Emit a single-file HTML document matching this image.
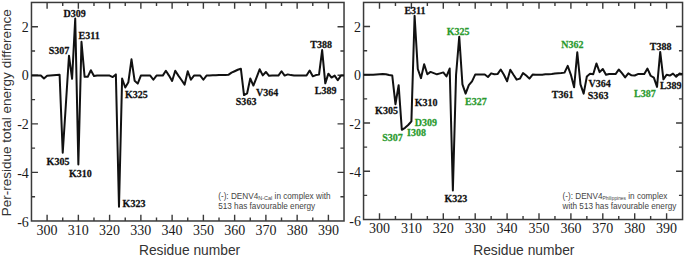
<!DOCTYPE html>
<html><head><meta charset="utf-8"><style>
html,body{margin:0;padding:0;background:#fff;}
body{width:685px;height:256px;overflow:hidden;}
svg{display:block;}
.tl{font-family:"Liberation Serif",serif;font-size:14px;fill:#1a1a1a;}
.lb{font-family:"Liberation Serif",serif;font-weight:bold;font-size:11px;fill:#111;stroke:#111;stroke-width:0.25px;}
.g{fill:#2a9a2e;stroke:#2a9a2e;}
.at{font-family:"Liberation Sans",sans-serif;font-size:13.8px;fill:#333;}
.lg{font-family:"Liberation Sans",sans-serif;font-size:8.2px;fill:#444;}
.sub{font-size:5.8px;}
</style></head><body>
<svg width="685" height="256" viewBox="0 0 685 256">
<rect x="31.47" y="2.46" width="312.56" height="218.52" fill="none" stroke="#3a3a3a" stroke-width="1.5"/>
<path d="M47.10 220.98v-6.3M47.10 2.46v6.3M62.73 220.98v-3.6M62.73 2.46v3.6M78.36 220.98v-6.3M78.36 2.46v6.3M93.98 220.98v-3.6M93.98 2.46v3.6M109.61 220.98v-6.3M109.61 2.46v6.3M125.24 220.98v-3.6M125.24 2.46v3.6M140.87 220.98v-6.3M140.87 2.46v6.3M156.50 220.98v-3.6M156.50 2.46v3.6M172.12 220.98v-6.3M172.12 2.46v6.3M187.75 220.98v-3.6M187.75 2.46v3.6M203.38 220.98v-6.3M203.38 2.46v6.3M219.01 220.98v-3.6M219.01 2.46v3.6M234.64 220.98v-6.3M234.64 2.46v6.3M250.26 220.98v-3.6M250.26 2.46v3.6M265.89 220.98v-6.3M265.89 2.46v6.3M281.52 220.98v-3.6M281.52 2.46v3.6M297.15 220.98v-6.3M297.15 2.46v6.3M312.78 220.98v-3.6M312.78 2.46v3.6M328.40 220.98v-6.3M328.40 2.46v6.3M31.47 196.70h3.6M344.03 196.70h-3.6M31.47 172.42h6.5M344.03 172.42h-6.5M31.47 148.14h3.6M344.03 148.14h-3.6M31.47 123.86h6.5M344.03 123.86h-6.5M31.47 99.58h3.6M344.03 99.58h-3.6M31.47 75.30h6.5M344.03 75.30h-6.5M31.47 51.02h3.6M344.03 51.02h-3.6M31.47 26.74h6.5M344.03 26.74h-6.5" stroke="#3a3a3a" stroke-width="1.4" fill="none"/>
<text x="47.10" y="235.28" text-anchor="middle" class="tl">300</text>
<text x="78.36" y="235.28" text-anchor="middle" class="tl">310</text>
<text x="109.61" y="235.28" text-anchor="middle" class="tl">320</text>
<text x="140.87" y="235.28" text-anchor="middle" class="tl">330</text>
<text x="172.12" y="235.28" text-anchor="middle" class="tl">340</text>
<text x="203.38" y="235.28" text-anchor="middle" class="tl">350</text>
<text x="234.64" y="235.28" text-anchor="middle" class="tl">360</text>
<text x="265.89" y="235.28" text-anchor="middle" class="tl">370</text>
<text x="297.15" y="235.28" text-anchor="middle" class="tl">380</text>
<text x="328.40" y="235.28" text-anchor="middle" class="tl">390</text>
<text x="28.87" y="227.38" text-anchor="end" class="tl">-6</text>
<text x="28.87" y="178.22" text-anchor="end" class="tl">-4</text>
<text x="28.87" y="128.76" text-anchor="end" class="tl">-2</text>
<text x="28.87" y="80.40" text-anchor="end" class="tl">0</text>
<text x="28.87" y="31.94" text-anchor="end" class="tl">2</text>
<rect x="363.55" y="2.44" width="319.00" height="217.08" fill="none" stroke="#3a3a3a" stroke-width="1.5"/>
<path d="M379.50 219.52v-6.3M379.50 2.44v6.3M395.45 219.52v-3.6M395.45 2.44v3.6M411.40 219.52v-6.3M411.40 2.44v6.3M427.35 219.52v-3.6M427.35 2.44v3.6M443.30 219.52v-6.3M443.30 2.44v6.3M459.25 219.52v-3.6M459.25 2.44v3.6M475.20 219.52v-6.3M475.20 2.44v6.3M491.15 219.52v-3.6M491.15 2.44v3.6M507.10 219.52v-6.3M507.10 2.44v6.3M523.05 219.52v-3.6M523.05 2.44v3.6M539.00 219.52v-6.3M539.00 2.44v6.3M554.95 219.52v-3.6M554.95 2.44v3.6M570.90 219.52v-6.3M570.90 2.44v6.3M586.85 219.52v-3.6M586.85 2.44v3.6M602.80 219.52v-6.3M602.80 2.44v6.3M618.75 219.52v-3.6M618.75 2.44v3.6M634.70 219.52v-6.3M634.70 2.44v6.3M650.65 219.52v-3.6M650.65 2.44v3.6M666.60 219.52v-6.3M666.60 2.44v6.3M363.55 195.40h3.6M682.55 195.40h-3.6M363.55 171.28h6.5M682.55 171.28h-6.5M363.55 147.16h3.6M682.55 147.16h-3.6M363.55 123.04h6.5M682.55 123.04h-6.5M363.55 98.92h3.6M682.55 98.92h-3.6M363.55 74.80h6.5M682.55 74.80h-6.5M363.55 50.68h3.6M682.55 50.68h-3.6M363.55 26.56h6.5M682.55 26.56h-6.5" stroke="#3a3a3a" stroke-width="1.4" fill="none"/>
<text x="379.50" y="233.02" text-anchor="middle" class="tl">300</text>
<text x="411.40" y="233.02" text-anchor="middle" class="tl">310</text>
<text x="443.30" y="233.02" text-anchor="middle" class="tl">320</text>
<text x="475.20" y="233.02" text-anchor="middle" class="tl">330</text>
<text x="507.10" y="233.02" text-anchor="middle" class="tl">340</text>
<text x="539.00" y="233.02" text-anchor="middle" class="tl">350</text>
<text x="570.90" y="233.02" text-anchor="middle" class="tl">360</text>
<text x="602.80" y="233.02" text-anchor="middle" class="tl">370</text>
<text x="634.70" y="233.02" text-anchor="middle" class="tl">380</text>
<text x="666.60" y="233.02" text-anchor="middle" class="tl">390</text>
<text x="360.95" y="225.82" text-anchor="end" class="tl">-6</text>
<text x="360.95" y="177.08" text-anchor="end" class="tl">-4</text>
<text x="360.95" y="128.84" text-anchor="end" class="tl">-2</text>
<text x="360.95" y="80.00" text-anchor="end" class="tl">0</text>
<text x="360.95" y="32.16" text-anchor="end" class="tl">2</text>
<polyline points="31.47,75.60 34.60,75.60 37.72,75.60 40.85,75.60 43.97,78.51 47.10,75.84 50.23,75.60 53.35,75.36 56.48,75.11 59.60,74.87 62.73,152.81 65.85,104.74 68.98,55.69 72.10,78.76 75.23,18.54 78.36,164.46 81.48,41.85 84.61,76.81 87.73,76.81 90.86,70.26 93.98,76.09 97.11,75.60 100.24,75.60 103.36,75.60 106.49,75.60 109.61,75.60 112.74,77.06 115.86,74.39 118.99,206.71 122.11,78.51 125.24,87.50 128.37,82.16 131.49,59.33 134.62,80.70 137.74,83.61 140.87,75.60 143.99,75.60 147.12,75.60 150.24,75.60 153.37,79.73 156.50,75.60 159.62,75.60 162.75,75.60 165.87,70.74 169.00,75.60 172.12,80.94 175.25,70.74 178.38,75.60 181.50,79.97 184.63,84.58 187.75,71.23 190.88,79.73 194.00,75.60 197.13,75.60 200.25,75.60 203.38,79.73 206.51,75.60 209.63,75.60 212.76,75.36 215.88,75.36 219.01,75.11 222.13,75.11 225.26,75.11 228.38,74.87 231.51,72.69 234.64,71.23 237.76,69.77 240.89,68.80 244.01,95.02 247.14,93.32 250.26,78.51 253.39,85.55 256.52,77.54 259.64,69.29 262.77,75.36 265.89,71.96 269.02,75.84 272.14,75.60 275.27,75.60 278.39,75.60 281.52,71.23 284.65,75.60 287.77,74.39 290.90,75.11 294.02,75.60 297.15,75.60 300.27,75.60 303.40,75.60 306.52,75.60 309.65,70.50 312.78,76.33 315.90,75.11 319.03,74.63 322.15,50.11 325.28,83.37 328.40,73.66 331.53,77.54 334.66,75.60 337.78,80.21 340.91,75.60 344.03,75.60" fill="none" stroke="#111" stroke-width="2" stroke-linejoin="round"/>
<polyline points="363.55,74.80 366.74,74.80 369.93,74.80 373.12,74.80 376.31,74.56 379.50,74.32 382.69,74.08 385.88,74.32 389.07,75.04 392.26,75.52 395.45,104.23 398.64,85.17 401.83,129.79 405.02,127.86 408.21,124.97 411.40,121.35 414.59,15.71 417.78,69.01 420.97,78.18 424.16,64.19 427.35,74.32 430.54,71.91 433.73,73.11 436.92,74.32 440.11,73.35 443.30,72.39 446.49,76.49 449.68,68.53 452.87,190.58 456.06,74.80 459.25,36.69 462.44,84.45 465.63,93.61 468.82,85.17 472.01,81.31 475.20,74.56 478.39,74.56 481.58,74.56 484.77,74.56 487.96,76.97 491.15,73.35 494.34,74.32 497.53,74.08 500.72,69.49 503.91,74.80 507.10,81.31 510.29,69.73 513.48,74.80 516.67,79.62 519.86,78.66 523.05,73.11 526.24,75.52 529.43,78.66 532.62,74.56 535.81,74.80 539.00,74.80 542.19,74.80 545.38,74.32 548.57,74.32 551.76,74.08 554.95,73.59 558.14,73.35 561.33,73.11 564.52,72.63 567.71,65.88 570.90,74.80 574.09,87.34 577.28,52.37 580.47,84.45 583.66,93.61 586.85,76.49 590.04,73.84 593.23,74.32 596.42,63.46 599.61,72.15 602.80,69.01 605.99,74.80 609.18,74.08 612.37,74.08 615.56,74.08 618.75,69.49 621.94,73.11 625.13,77.45 628.32,73.35 631.51,75.28 634.70,75.52 637.89,74.08 641.08,74.08 644.27,74.08 647.46,68.53 650.65,75.76 653.84,77.69 657.03,86.86 660.22,51.89 663.41,79.38 666.60,74.80 669.79,75.52 672.98,73.59 676.17,76.73 679.36,73.59 682.55,74.32" fill="none" stroke="#111" stroke-width="2" stroke-linejoin="round"/>
<text transform="translate(46.60 164.60) scale(0.912 1)" class="lb">K305</text>
<text transform="translate(69.00 177.00) scale(0.912 1)" class="lb">K310</text>
<text transform="translate(48.70 53.90) scale(0.912 1)" class="lb">S307</text>
<text transform="translate(63.60 16.80) scale(0.912 1)" class="lb">D309</text>
<text transform="translate(78.60 39.30) scale(0.912 1)" class="lb">E311</text>
<text transform="translate(122.60 206.50) scale(0.912 1)" class="lb">K323</text>
<text transform="translate(124.90 97.90) scale(0.912 1)" class="lb">K325</text>
<text transform="translate(235.80 105.30) scale(0.912 1)" class="lb">S363</text>
<text transform="translate(256.00 95.50) scale(0.912 1)" class="lb">V364</text>
<text transform="translate(310.20 48.20) scale(0.912 1)" class="lb">T388</text>
<text transform="translate(314.70 93.70) scale(0.912 1)" class="lb">L389</text>
<text transform="translate(404.40 14.40) scale(0.912 1)" class="lb">E311</text>
<text transform="translate(375.10 114.10) scale(0.912 1)" class="lb">K305</text>
<text transform="translate(414.80 106.30) scale(0.912 1)" class="lb">K310</text>
<text transform="translate(414.80 126.20) scale(0.912 1)" class="lb g">D309</text>
<text transform="translate(407.00 135.60) scale(0.912 1)" class="lb g">I308</text>
<text transform="translate(382.20 140.90) scale(0.912 1)" class="lb g">S307</text>
<text transform="translate(446.80 34.50) scale(0.912 1)" class="lb g">K325</text>
<text transform="translate(465.00 104.70) scale(0.912 1)" class="lb g">E327</text>
<text transform="translate(444.50 202.00) scale(0.912 1)" class="lb">K323</text>
<text transform="translate(561.30 47.90) scale(0.912 1)" class="lb g">N362</text>
<text transform="translate(551.80 97.70) scale(0.912 1)" class="lb">T361</text>
<text transform="translate(588.40 87.20) scale(0.912 1)" class="lb">V364</text>
<text transform="translate(587.80 98.70) scale(0.912 1)" class="lb">S363</text>
<text transform="translate(649.80 49.80) scale(0.912 1)" class="lb">T388</text>
<text transform="translate(634.10 96.70) scale(0.912 1)" class="lb g">L387</text>
<text transform="translate(659.90 89.30) scale(0.912 1)" class="lb">L389</text>
<text x="189.6" y="255.1" text-anchor="middle" class="at">Residue number</text>
<text x="523.8" y="255.1" text-anchor="middle" class="at">Residue number</text>
<text transform="translate(10.9 112.8) rotate(-90)" text-anchor="middle" class="at" style="font-size:13.53px">Per-residue total energy difference</text>
<text x="218.2" y="199.2" class="lg">(-): DENV4<tspan style="font-size:5.5px" dy="0.7">N-Cal</tspan><tspan dy="-0.7"> in complex with</tspan></text>
<text x="218.2" y="208.7" class="lg">513 has favourable energy</text>
<text x="562.5" y="199.3" class="lg">(-): DENV4<tspan style="font-size:4.85px" dy="0.7">Philippines</tspan><tspan dy="-0.7"> in complex</tspan></text>
<text x="562.5" y="208.7" class="lg">with 513 has favourable energy</text>
</svg>
</body></html>
